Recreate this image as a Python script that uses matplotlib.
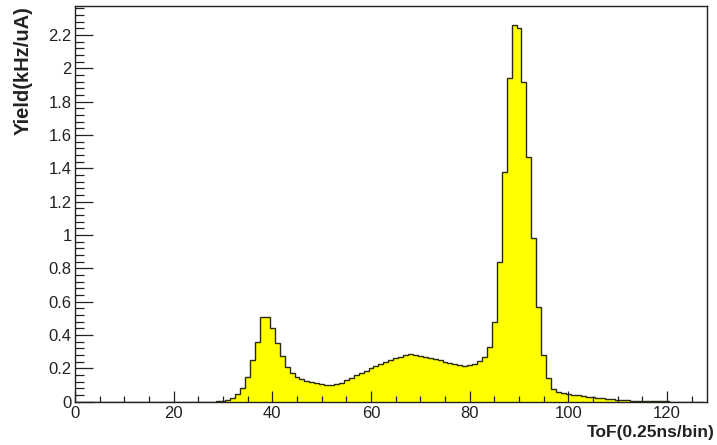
import numpy as np
import matplotlib
matplotlib.use('Agg')
import matplotlib.pyplot as plt
import matplotlib.ticker as mticker

plt.rcParams['font.family'] = ['Liberation Sans', 'DejaVu Sans']

# ToF histogram, one bin per unit, bin centres 0..127
tof_centers = np.arange(128)
yield_khz = [
    0, 0, 0, 0, 0, 0, 0, 0, 0, 0,
    0, 0, 0, 0, 0, 0, 0, 0, 0, 0,
    0, 0, 0, 0, 0, 0, 0, 0, 0, 0.003,
    0.006, 0.012, 0.025, 0.045, 0.085, 0.15, 0.25, 0.36, 0.51, 0.505,
    0.44, 0.35, 0.276, 0.21, 0.17, 0.148, 0.134, 0.124, 0.117, 0.111,
    0.106, 0.103, 0.102, 0.104, 0.112, 0.128, 0.145, 0.158, 0.172, 0.186,
    0.2, 0.213, 0.226, 0.238, 0.25, 0.26, 0.27, 0.279, 0.285, 0.282,
    0.277, 0.271, 0.264, 0.256, 0.248, 0.24, 0.232, 0.225, 0.219, 0.216,
    0.218, 0.226, 0.245, 0.27, 0.33, 0.476, 0.84, 1.38, 1.94, 2.26,
    2.24, 1.92, 1.47, 0.98, 0.57, 0.28, 0.14, 0.076, 0.058, 0.05,
    0.046, 0.042, 0.038, 0.034, 0.03, 0.027, 0.024, 0.021, 0.018, 0.016,
    0.013, 0.01, 0.008, 0.006, 0.005, 0.004, 0.003, 0.002, 0.002, 0.002,
    0.002, 0.001, 0.001, 0.001, 0.001, 0.001, 0.001, 0.001,
]
x_title = 'ToF(0.25ns/bin)'
y_title = 'Yield(kHz/uA)'

vals = np.array(yield_khz)
edges = np.append(tof_centers - 0.5, tof_centers[-1] + 0.5)

fig = plt.figure(figsize=(7.17, 4.45), dpi=100)
ax = fig.add_axes([75/717, 1-401.7/445, 631.5/717, (401.7-6)/445])

ax.stairs(vals, edges, fill=True, facecolor='#ffff00', edgecolor='none')
ax.stairs(vals, edges, color='#2a2a10', linewidth=1.0)

ax.set_xlim(0, 128)
ax.set_ylim(0, 1.05*vals.max())

ax.xaxis.set_major_locator(mticker.MultipleLocator(20))
ax.xaxis.set_minor_locator(mticker.MultipleLocator(5))
ax.yaxis.set_major_locator(mticker.MultipleLocator(0.2))
ax.yaxis.set_minor_locator(mticker.MultipleLocator(0.04))
ax.yaxis.set_major_formatter(mticker.FuncFormatter(lambda v, p: '%g' % round(v, 2)))

ax.tick_params(axis='both', which='both', direction='in', top=False, right=False,
               colors='#222222', labelsize=12, width=0.9)
ax.tick_params(axis='x', which='major', length=7.7, pad=3)
ax.tick_params(axis='x', which='minor', length=4)
ax.tick_params(axis='y', which='major', length=13, pad=2.5)
ax.tick_params(axis='y', which='minor', length=6.5)
for s in ax.spines.values():
    s.set_linewidth(1.0)
    s.set_color('#222222')

fig.text(23/717, 1-6/445, y_title, rotation=90, ha='center', va='top',
         fontsize=14.5, fontweight='bold', color='#222222')
fig.text(715/717, 1-433/445, x_title, ha='right', va='center',
         fontsize=12.5, fontweight='bold', color='#222222')

fig.savefig('out.png', dpi=100)
